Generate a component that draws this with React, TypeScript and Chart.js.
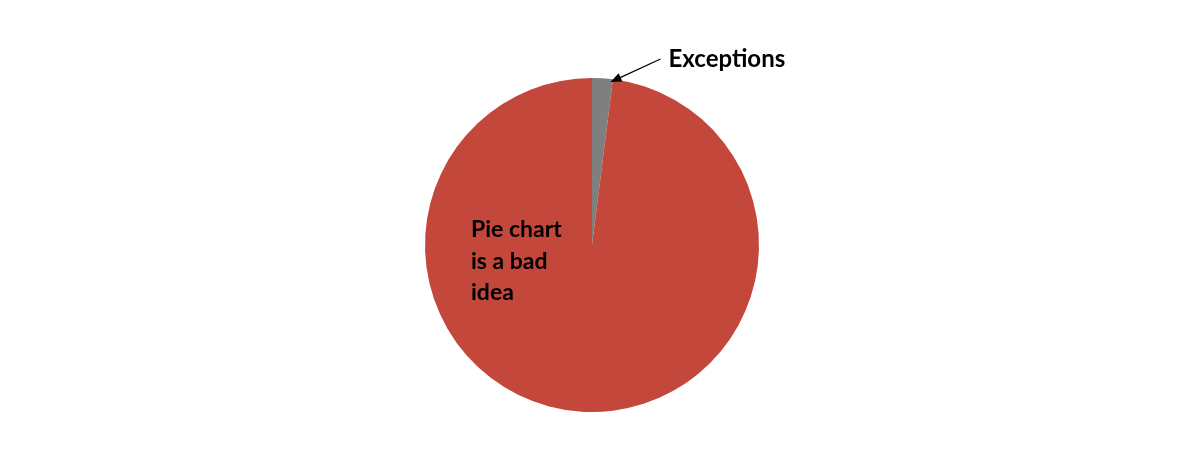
import { useEffect, useRef } from "react";
import { Chart, registerables } from "chart.js";

Chart.register(...registerables);

const categories = ["Exceptions", "Pie chart is a bad idea"];
const shares = [2, 98];
const sliceColors = ["#7f7f7f", "#c3473a"];
const insideLabel = ["Pie chart", "is a bad", "idea"];

// draws the two slice labels and the arrow pointing to the thin slice
const labelPlugin = {
  id: "sliceLabels",
  afterDraw(chart: any) {
    const meta = chart.getDatasetMeta(0);
    if (!meta || !meta.data.length) return;
    const ctx = chart.ctx as CanvasRenderingContext2D;
    const small = meta.data[0] as any;
    const { x, y, outerRadius, endAngle, startAngle } = small.getProps(
      ["x", "y", "outerRadius", "startAngle", "endAngle"],
      true
    );

    ctx.save();
    ctx.fillStyle = "#000";
    ctx.strokeStyle = "#000";

    // arrow from label to the grey slice
    const a = endAngle - (endAngle - startAngle) * 0.1;
    const tipX = x + Math.cos(a) * (outerRadius - 3);
    const tipY = y + Math.sin(a) * (outerRadius - 3);
    const fromX = tipX + 50;
    const fromY = tipY - 23;
    const ang = Math.atan2(tipY - fromY, tipX - fromX);
    const head = 11;
    ctx.lineWidth = 1.2;
    ctx.beginPath();
    ctx.moveTo(fromX, fromY);
    ctx.lineTo(tipX - Math.cos(ang) * head * 0.8, tipY - Math.sin(ang) * head * 0.8);
    ctx.stroke();
    ctx.beginPath();
    ctx.moveTo(tipX, tipY);
    ctx.lineTo(
      tipX - head * Math.cos(ang) + 4.5 * Math.sin(ang),
      tipY - head * Math.sin(ang) - 4.5 * Math.cos(ang)
    );
    ctx.lineTo(
      tipX - head * Math.cos(ang) - 4.5 * Math.sin(ang),
      tipY - head * Math.sin(ang) + 4.5 * Math.cos(ang)
    );
    ctx.closePath();
    ctx.fill();

    ctx.textBaseline = "alphabetic";
    ctx.textAlign = "left";
    ctx.font = "bold 24px Lato, 'Open Sans', sans-serif";
    ctx.fillText(categories[0], fromX + 8, fromY + 8);

    // text inside the big slice
    ctx.font = "bold 23px Lato, 'Open Sans', sans-serif";
    insideLabel.forEach((line, i) => {
      ctx.fillText(line, x - 121, y - 8 + i * 31.5);
    });
    ctx.restore();
  },
};

export default function App() {
  const canvasRef = useRef<HTMLCanvasElement>(null);
  const chartRef = useRef<Chart | null>(null);

  useEffect(() => {
    document.body.style.margin = "0";
    if (!canvasRef.current) return;
    const ctx = canvasRef.current.getContext("2d");
    if (!ctx) return;

    if (chartRef.current) chartRef.current.destroy();

    chartRef.current = new Chart(ctx, {
      type: "pie",
      data: {
        labels: categories,
        datasets: [
          {
            data: shares,
            backgroundColor: sliceColors,
            borderWidth: 0,
          },
        ],
      },
      options: {
        responsive: true,
        maintainAspectRatio: false,
        animation: false,
        layout: { padding: { top: 78, bottom: 63, left: 0, right: 16 } },
        plugins: {
          legend: { display: false },
          tooltip: { enabled: false },
        },
      },
      plugins: [labelPlugin],
    });

    return () => {
      if (chartRef.current) {
        chartRef.current.destroy();
        chartRef.current = null;
      }
    };
  }, []);

  return (
    <div style={{ position: "relative", width: "1200px", height: "475px", background: "#fff" }}>
      <canvas ref={canvasRef}></canvas>
    </div>
  );
}
